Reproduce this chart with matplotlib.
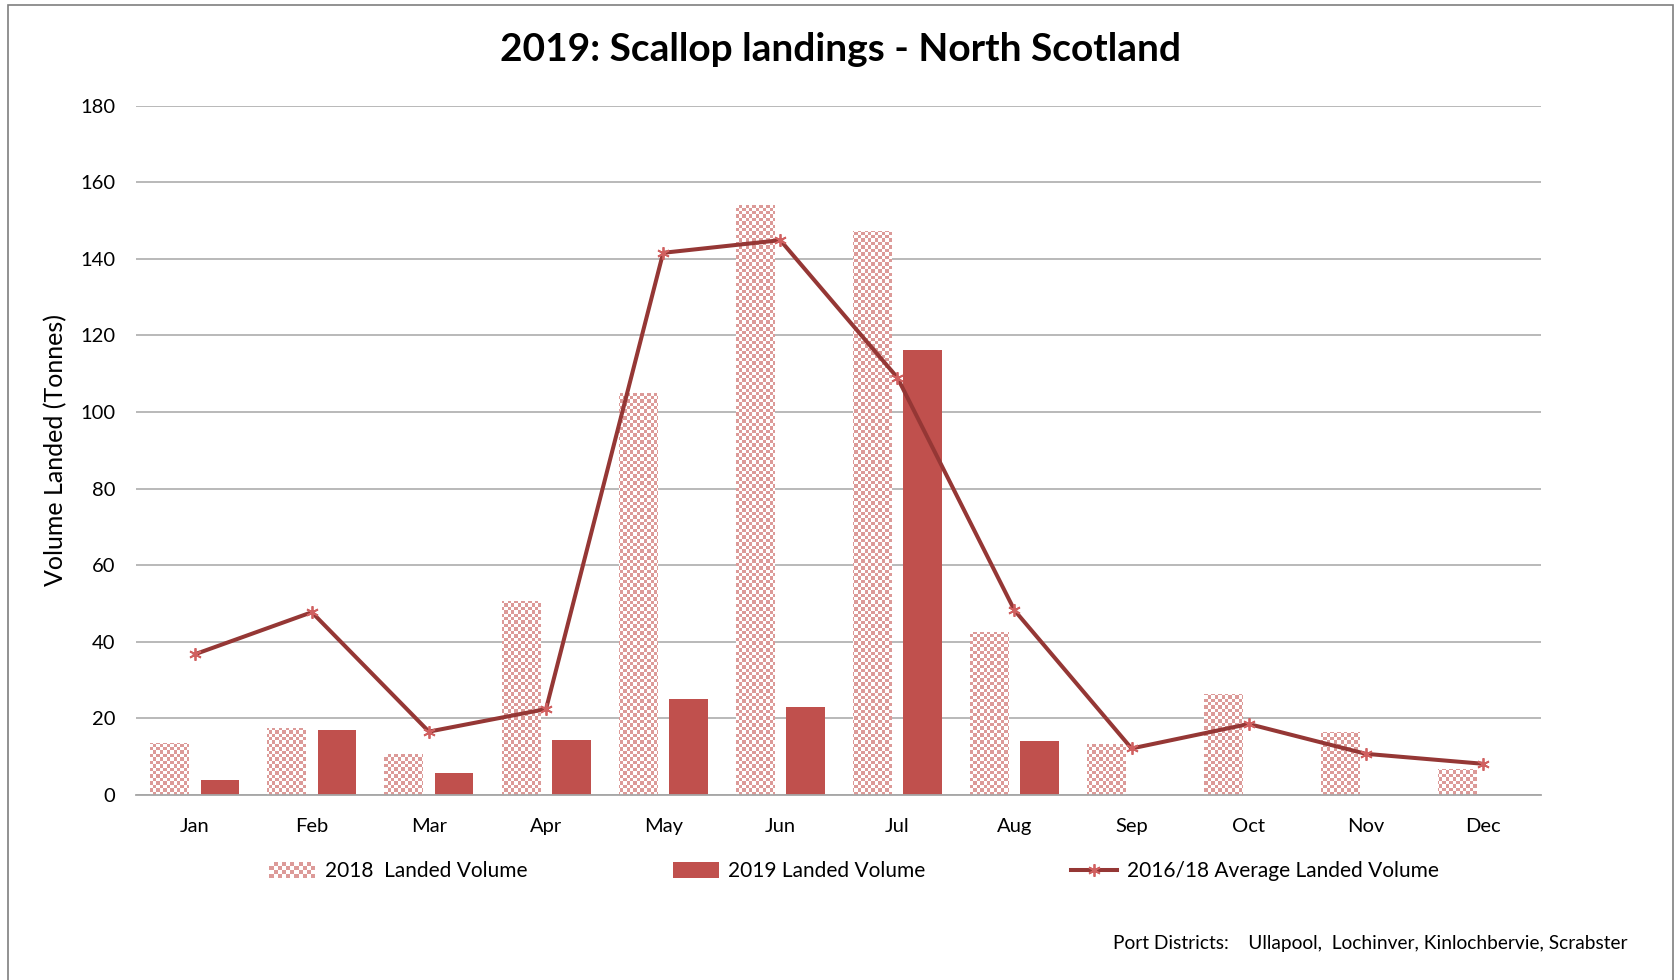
import numpy as np
import matplotlib
matplotlib.use("Agg")
import matplotlib.pyplot as plt
from matplotlib.patches import Rectangle
from matplotlib.lines import Line2D
from matplotlib.legend_handler import HandlerBase
from matplotlib.colors import ListedColormap

plt.rcParams['font.family'] = ['Lato', 'DejaVu Sans']

months = ['Jan', 'Feb', 'Mar', 'Apr', 'May', 'Jun', 'Jul', 'Aug', 'Sep', 'Oct', 'Nov', 'Dec']
vol_2018 = [13.5, 17.5, 10.6, 50.5, 105, 154.2, 147.2, 42.6, 13.2, 26.4, 16.4, 6.8]
vol_2019 = [3.9, 16.8, 5.6, 14.3, 25, 23, 116.3, 14, 0, 0, 0, 0]
avg_1618 = [36.7, 47.7, 16.5, 22.4, 141.6, 144.9, 109.0, 48.2, 12.1, 18.5, 10.7, 8.1]
y_ticks = [0, 20, 40, 60, 80, 100, 120, 140, 160, 180]

CHECK = '#dc9a98'
RED = '#c0504d'
DARK = '#953735'
MARK = '#d06060'

fig = plt.figure(figsize=(16.81, 9.80), dpi=100)
ax = fig.add_axes([0.081, 0.189, 0.836, 0.703])

x = np.arange(len(months))
bw = 0.33
off = 0.215
ax.set_xlim(-0.5, len(months) - 0.5)
ax.set_ylim(0, 180)

bars18 = ax.bar(x - off, vol_2018, width=bw, facecolor='none', edgecolor='none', zorder=2)
bars19 = ax.bar(x + off, vol_2019, width=bw, color=RED, edgecolor='none', zorder=2)

# checkerboard texture clipped to each 2018 bar
ax_w_px = 0.836 * 1681
ax_h_px = 0.703 * 980
cell = 3.4
ncols = int(ax_w_px / cell)
nrows = int(ax_h_px / cell)
ii, jj = np.indices((nrows, ncols))
chk = ((ii + jj) % 2).astype(float)
cmap = ListedColormap(['white', CHECK])
for b in bars18:
    im = ax.imshow(chk, cmap=cmap, vmin=0, vmax=1, extent=(-0.5, len(months) - 0.5, 0, 180),
                   aspect='auto', interpolation='nearest', origin='lower', zorder=1.9)
    im.set_clip_path(b)
ax.set_xlim(-0.5, len(months) - 0.5)
ax.set_ylim(0, 180)

ax.plot(x, avg_1618, color=DARK, lw=2.9, marker=(6, 2, 0), markersize=9,
        markeredgecolor=MARK, markeredgewidth=1.3, zorder=3)

ax.set_yticks(y_ticks)
ax.set_xticks(x)
ax.set_xticklabels(months)
ax.yaxis.grid(True, color='#a6a6a6', lw=1.1)
ax.set_axisbelow(True)
for s in ['top', 'right', 'left']:
    ax.spines[s].set_visible(False)
ax.spines['bottom'].set_color('#a6a6a6')
ax.spines['bottom'].set_linewidth(1.3)
ax.tick_params(axis='both', length=0, labelsize=14.5, colors='#000000')
ax.tick_params(axis='y', pad=15)
ax.tick_params(axis='x', pad=17)
ax.set_ylabel('Volume Landed (Tonnes)', fontsize=18, labelpad=9)

fig.text(0.5, 0.949, '2019: Scallop landings - North Scotland', ha='center', va='center',
         fontsize=28, fontweight='bold')


class CheckerHandler(HandlerBase):
    def create_artists(self, legend, orig_handle, xdescent, ydescent, width, height, fontsize, trans):
        arts = []
        nc = 11
        cw = width / nc
        nr = max(1, int(round(height / cw)))
        ch = height / nr
        for i in range(nc):
            for j in range(nr):
                if (i + j) % 2 == 0:
                    arts.append(Rectangle((-xdescent + i * cw, -ydescent + j * ch), cw, ch,
                                          facecolor=CHECK, edgecolor='none', transform=trans))
        return arts


class Dummy:
    pass


h18 = Dummy()
h19 = Rectangle((0, 0), 1, 1, facecolor=RED, edgecolor='none')
hl = Line2D([], [], color=DARK, lw=2.9, marker=(6, 2, 0), markersize=9,
            markeredgecolor=MARK, markeredgewidth=1.3)
leg = fig.legend([h18, h19, hl], ['2018  Landed Volume', '2019 Landed Volume', '2016/18 Average Landed Volume'],
                 handler_map={Dummy: CheckerHandler()}, loc='center', bbox_to_anchor=(0.508, 0.111),
                 ncol=3, frameon=False, fontsize=15, handlelength=2.2, handleheight=0.75,
                 columnspacing=7.0, handletextpad=0.45, numpoints=1)

fig.text(0.968, 0.037, 'Port Districts:    Ullapool,  Lochinver, Kinlochbervie, Scrabster',
         ha='right', va='center', fontsize=13.8)

fig.patches.append(Rectangle((0.005, -0.01), 0.99, 1.005, transform=fig.transFigure,
                             facecolor='none', edgecolor='#7f7f7f', lw=1.2))

fig.savefig('out.png', dpi=100)
